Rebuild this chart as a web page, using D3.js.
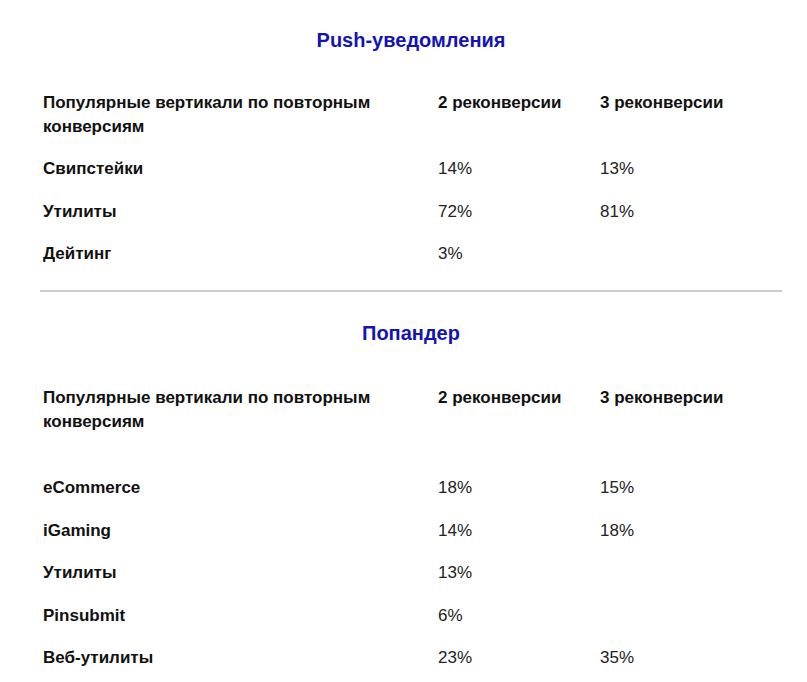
<!DOCTYPE html>
<html><head><meta charset="utf-8">
<script src="https://cdn.jsdelivr.net/npm/d3@7"></script>
<style>body{margin:0;background:#fff}</style>
</head><body>
<div id="chart"></div>
<script>
// данные
const headers = ["Популярные вертикали по повторным\nконверсиям", "2 реконверсии", "3 реконверсии"];

const pushTitle = "Push-уведомления";
const pushCategories = ["Свипстейки", "Утилиты", "Дейтинг"];
const pushRec2 = [14, 72, 3];
const pushRec3 = [13, 81, null];

const popTitle = "Попандер";
const popCategories = ["eCommerce", "iGaming", "Утилиты", "Pinsubmit", "Веб-утилиты"];
const popRec2 = [18, 14, 13, 6, 23];
const popRec3 = [15, 18, null, null, 35];

const width = 807, height = 682;
const svg = d3.select("#chart").append("svg")
    .attr("width", width).attr("height", height)
    .style("font-family", "'Liberation Sans', Arial, sans-serif");

const colX = [43, 438, 600];

function drawBlock(title, titleY, headY, rowsY, cats, r2, r3) {
    svg.append("text")
        .attr("x", 411).attr("y", titleY)
        .attr("text-anchor", "middle")
        .style("font-size", "20px").style("font-weight", "bold")
        .style("fill", "#1414b4")
        .text(title);

    headers.forEach((h, i) => {
        h.split("\n").forEach((line, j) => {
            svg.append("text")
                .attr("x", colX[i]).attr("y", headY + j * 24)
                .style("font-size", "17px").style("font-weight", "bold")
                .style("fill", "#111")
                .text(line);
        });
    });

    const y = d3.scalePoint().domain(cats).range(rowsY);
    const fmt = v => v == null ? "" : v + "%";

    cats.forEach((c, i) => {
        const g = svg.append("g").attr("transform", `translate(0,${y(c)})`);
        g.append("text").attr("x", colX[0])
            .style("font-size", "17px").style("font-weight", "bold").style("fill", "#111")
            .text(c);
        g.append("text").attr("x", colX[1])
            .style("font-size", "17px").style("fill", "#222").text(fmt(r2[i]));
        g.append("text").attr("x", colX[2])
            .style("font-size", "17px").style("fill", "#222").text(fmt(r3[i]));
    });
}

drawBlock(pushTitle, 47, 108, [174, 259], pushCategories, pushRec2, pushRec3);

svg.append("line")
    .attr("x1", 40).attr("x2", 782).attr("y1", 291).attr("y2", 291)
    .attr("stroke", "#bbb").attr("stroke-width", 1.5);

drawBlock(popTitle, 340, 403, [493, 663], popCategories, popRec2, popRec3);
</script>
</body></html>
